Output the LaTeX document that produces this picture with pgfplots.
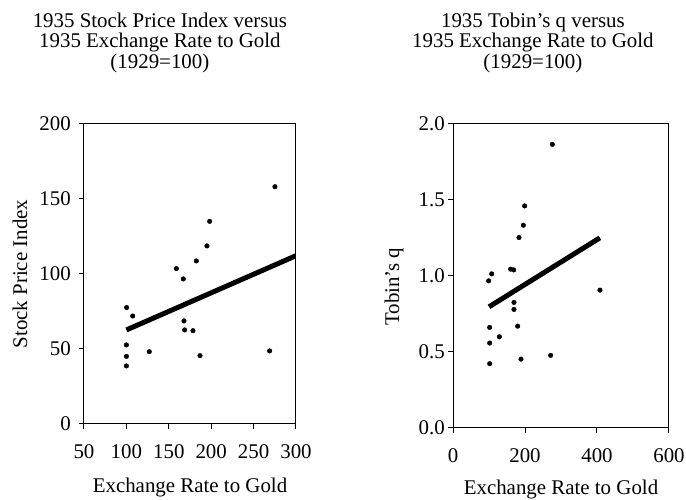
\documentclass[border=0pt]{standalone}
\usepackage{pgfplots}
\pgfplotsset{compat=1.18}
\usepackage{fontspec}
\setmainfont{Liberation Serif}
\newcommand\cf{\fontsize{20.9pt}{20.5pt}\selectfont}
\begin{document}
\begin{tikzpicture}
\useasboundingbox (0pt,0pt) rectangle (686pt,500pt);
\pgfplotsset{
  every axis/.append style={
    scale only axis, anchor=south west,
    font=\cf,
    axis line style={line width=1pt},
    every tick/.style={line width=1pt, black},
    tick align=outside, major tick length=5pt,
    xtick pos=bottom, ytick pos=left,
    /pgf/number format/assume math mode=true,
    /pgf/number format/1000 sep={},
    x tick label style={font=\cf, inner sep=0pt, anchor=north, yshift=-15pt},
    y tick label style={font=\cf, inner sep=0pt, anchor=east},
    clip=true,
  },
}
\begin{axis}[
  at={(84pt,76pt)}, width=212pt, height=300pt,
  xmin=50, xmax=300, ymin=0, ymax=200,
  xtick={50,100,150,200,250,300}, ytick={0,50,100,150,200},
  y tick label style={xshift=-8pt},
  title={1935 Stock Price Index versus\\1935 Exchange Rate to Gold\\(1929=100)},
  title style={align=center, font=\cf, at={(rel axis cs:0.358,1)}, anchor=south, inner sep=0pt, yshift=45pt},
  xlabel={Exchange Rate to Gold},
  xlabel style={font=\cf, at={(rel axis cs:0.5,0)}, anchor=base, inner sep=0pt, yshift=-69pt},
  ylabel={Stock Price Index},
  ylabel style={font=\cf, at={(rel axis cs:0,0.5)}, anchor=center, inner sep=0pt, yshift=64pt},
]
\addplot[only marks, mark=*, mark size=2.3pt, black] coordinates {
(100.3,77.6) (107.4,72.0) (100,52.7) (100,45.1) (100,38.7) (127,48.2)
(158.9,103.6) (167.1,96.7) (167.9,68.7) (168.7,62.7) (178.5,62.2)
(182.5,108.7) (186.8,45.6) (195,118.7) (198.2,135.1) (268.9,48.7) (275.2,158.2)
};
\addplot[black, line width=5pt] coordinates {(100,62.7) (300,112.2)};
\end{axis}
\begin{axis}[
  at={(453pt,72pt)}, width=216pt, height=304pt,
  xmin=0, xmax=600, ymin=0, ymax=2,
  xtick={0,200,400,600}, ytick={0,0.5,1,1.5,2},
  y tick label style={/pgf/number format/fixed, /pgf/number format/fixed zerofill, /pgf/number format/precision=1, xshift=-3pt},
  title={1935 Tobin's q versus\\1935 Exchange Rate to Gold\\(1929=100)},
  title style={align=center, font=\cf, at={(rel axis cs:0.370,1)}, anchor=south, inner sep=0pt, yshift=45pt},
  xlabel={Exchange Rate to Gold},
  xlabel style={font=\cf, at={(rel axis cs:0.5,0)}, anchor=base, inner sep=0pt, yshift=-67pt},
  ylabel={Tobin's q},
  ylabel style={font=\cf, at={(rel axis cs:0,0.465)}, anchor=center, inner sep=0pt, yshift=59pt},
]
\addplot[only marks, mark=*, mark size=2.3pt, black] coordinates {
(99,0.968) (107.4,1.014) (101.9,0.662) (101.9,0.559) (101.9,0.423) (128.7,0.600)
(160.2,1.045) (168.5,1.040) (169.4,0.826) (169.4,0.780) (179.6,0.670)
(183.3,1.253) (188.9,0.453) (195.4,1.334) (199,1.461) (271.3,0.478)
(275.9,1.866) (408.3,0.907)
};
\addplot[black, line width=5pt] coordinates {(100,0.797) (408,1.251)};
\end{axis}
\end{tikzpicture}
\end{document}
